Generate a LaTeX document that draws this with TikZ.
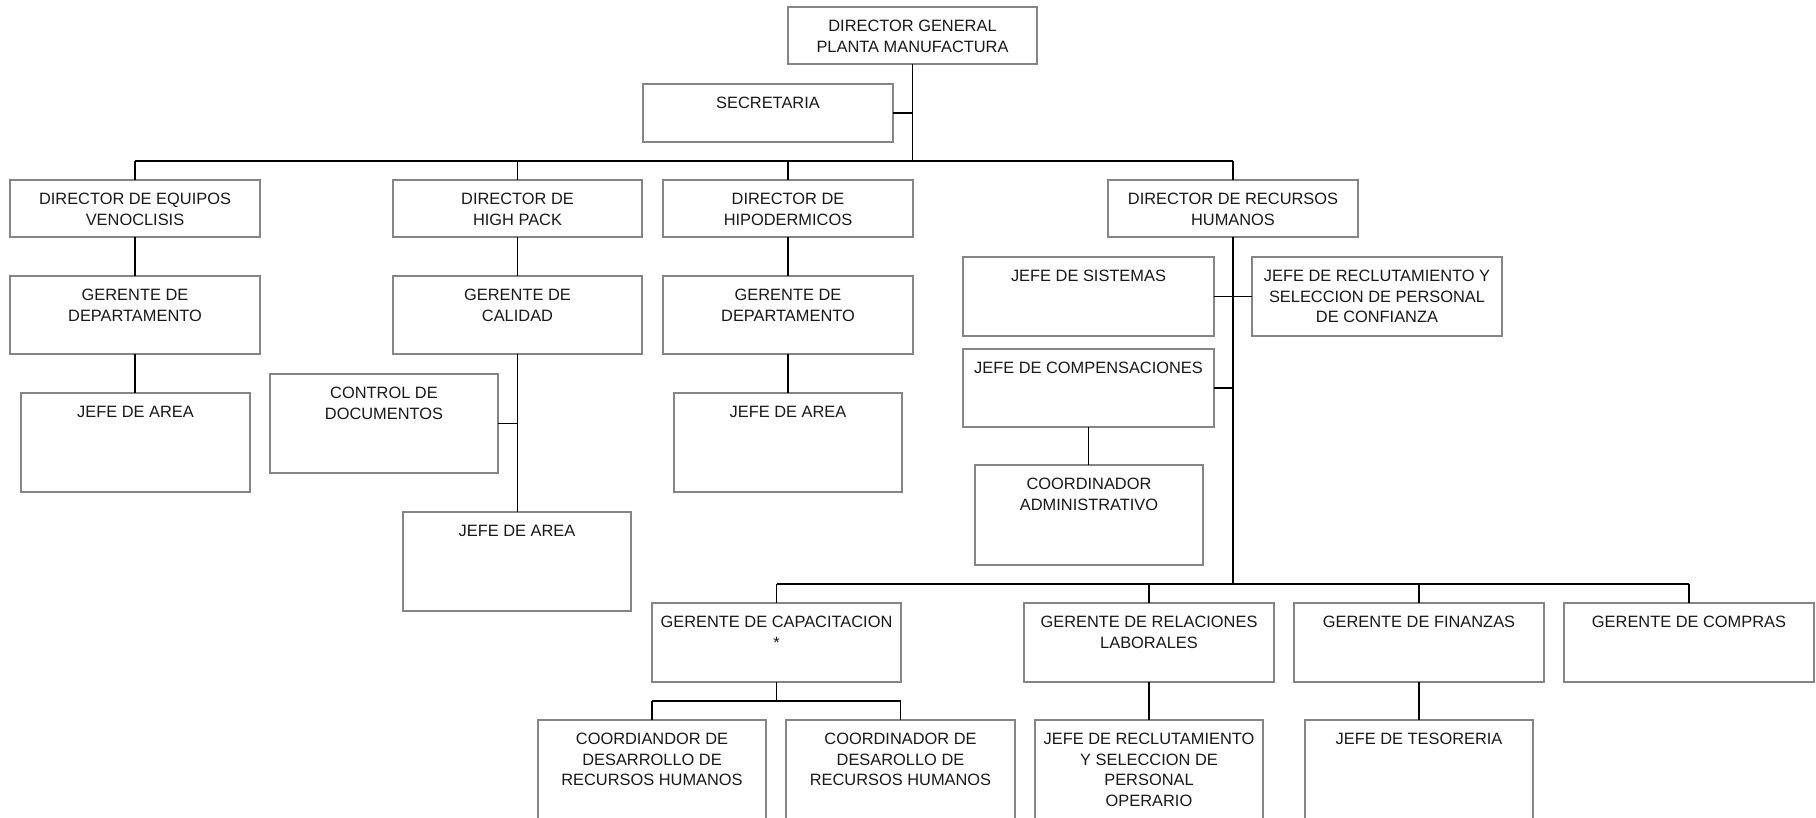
\documentclass[tikz,border=0pt]{standalone}
\usepackage{fontspec}
\setmainfont{Liberation Sans}
\newlength\pxu \setlength\pxu{0.5pt}
\newcommand\boxtxt[3]{\parbox[c][#2\pxu][t]{#1\pxu}{\centering\fontsize{8.2pt}{10.35pt}\selectfont\rule{0pt}{12.25pt}#3}}
\tikzset{
  obox/.style={draw=black!48, line width=0.6pt, fill=white, inner sep=0pt, outer sep=0pt, anchor=north west, text=black!90},
  conn/.style={draw=black, line width=0.55pt},
  bus/.style={draw=black, line width=0.75pt},
}
\begin{document}
\begin{tikzpicture}[x=0.5pt,y=-0.5pt]
\useasboundingbox (0,0) rectangle (1816,818);
\clip (0,0) rectangle (1816,818);
\fill[white] (0,0) rectangle (1816,818);
% boxes
\node[obox] (dg)  at (788,7)   {\boxtxt{249}{57}{DIRECTOR GENERAL\\PLANTA MANUFACTURA}};
\node[obox] (sec) at (643,84)  {\boxtxt{250}{58}{SECRETARIA}};
\node[obox] (d1)  at (10,180)  {\boxtxt{250}{57}{DIRECTOR DE EQUIPOS\\VENOCLISIS}};
\node[obox] (d2)  at (393,180) {\boxtxt{249}{57}{DIRECTOR DE\\HIGH PACK}};
\node[obox] (d3)  at (663,180) {\boxtxt{250}{57}{DIRECTOR DE\\HIPODERMICOS}};
\node[obox] (d4)  at (1108,180){\boxtxt{250}{57}{DIRECTOR DE RECURSOS\\HUMANOS}};
\node[obox] (g1)  at (10,276)  {\boxtxt{250}{78}{GERENTE DE\\DEPARTAMENTO}};
\node[obox] (g2)  at (393,276) {\boxtxt{249}{78}{GERENTE DE\\CALIDAD}};
\node[obox] (g3)  at (663,276) {\boxtxt{250}{78}{GERENTE DE\\DEPARTAMENTO}};
\node[obox] (ja1) at (21,393)  {\boxtxt{229}{99}{JEFE DE AREA}};
\node[obox] (cd)  at (270,374) {\boxtxt{228}{99}{CONTROL DE\\DOCUMENTOS}};
\node[obox] (ja2) at (403,512) {\boxtxt{228}{99}{JEFE DE AREA}};
\node[obox] (ja3) at (674,393) {\boxtxt{228}{99}{JEFE DE AREA}};
\node[obox] (js)  at (963,257) {\boxtxt{251}{79}{JEFE DE SISTEMAS}};
\node[obox] (jr)  at (1252,257){\boxtxt{250}{79}{JEFE DE RECLUTAMIENTO Y\\SELECCION DE PERSONAL\\DE CONFIANZA}};
\node[obox] (jc)  at (963,349) {\boxtxt{251}{78}{JEFE DE COMPENSACIONES}};
\node[obox] (ca)  at (975,465) {\boxtxt{228}{100}{COORDINADOR\\ADMINISTRATIVO}};
\node[obox] (gc)  at (652,603) {\boxtxt{249}{79}{GERENTE DE CAPACITACION\\{}*}};
\node[obox] (gr)  at (1024,603){\boxtxt{250}{79}{GERENTE DE RELACIONES\\LABORALES}};
\node[obox] (gf)  at (1294,603){\boxtxt{250}{79}{GERENTE DE FINANZAS}};
\node[obox] (gco) at (1564,603){\boxtxt{250}{79}{GERENTE DE COMPRAS}};
\node[obox] (co1) at (538,720) {\boxtxt{228}{120}{COORDIANDOR DE\\DESARROLLO DE\\RECURSOS HUMANOS}};
\node[obox] (co2) at (786,720) {\boxtxt{229}{120}{COORDINADOR DE\\DESAROLLO DE\\RECURSOS HUMANOS}};
\node[obox] (jro) at (1035,720){\boxtxt{228}{120}{JEFE DE RECLUTAMIENTO\\Y SELECCION DE\\PERSONAL\\OPERARIO}};
\node[obox] (jt)  at (1305,720){\boxtxt{228}{120}{JEFE DE TESORERIA}};
% junction coordinates
\coordinate (b1) at (dg.south |- 0,161);
\coordinate (s1) at (dg.south |- sec.east);
\coordinate (bl) at (d1.north |- b1);
\coordinate (br) at (d4.north |- b1);
\coordinate (k1) at (g2.south |- cd.east);
\coordinate (r2) at (d4.south |- 0,584);
\coordinate (rc) at (d4.south |- jc.east);
\coordinate (b2l) at (gc.north |- r2);
\coordinate (b2r) at (gco.north |- r2);
\coordinate (c3) at (gc.south |- 0,701);
\coordinate (c3l) at (co1.north |- c3);
\coordinate (c3r) at (co2.north |- c3);
% connectors
\draw[conn] (dg.south) -- (b1);
\draw[conn] (sec.east) -- (s1);
\draw[bus] (bl) -- (br);
\draw[conn] (bl) -- (d1.north);
\draw[conn] (d2.north |- b1) -- (d2.north);
\draw[conn] (d3.north |- b1) -- (d3.north);
\draw[conn] (br) -- (d4.north);
\draw[conn] (d1.south) -- (g1.north);
\draw[conn] (g1.south) -- (g1.south |- ja1.north);
\draw[conn] (d2.south) -- (g2.north);
\draw[conn] (g2.south) -- (g2.south |- ja2.north);
\draw[conn] (cd.east) -- (k1);
\draw[conn] (d3.south) -- (g3.north);
\draw[conn] (g3.south) -- (g3.south |- ja3.north);
\draw[conn] (d4.south) -- (r2);
\draw[conn] (js.east) -- (jr.west);
\draw[conn] (jc.east) -- (rc);
\draw[conn] (jc.south) -- (jc.south |- ca.north);
\draw[bus] (b2l) -- (b2r);
\draw[conn] (b2l) -- (gc.north);
\draw[conn] (gr.north |- r2) -- (gr.north);
\draw[conn] (gf.north |- r2) -- (gf.north);
\draw[conn] (b2r) -- (gco.north);
\draw[conn] (gc.south) -- (c3);
\draw[bus] (c3l) -- (c3r);
\draw[conn] (c3l) -- (co1.north);
\draw[conn] (c3r) -- (co2.north);
\draw[conn] (gr.south) -- (gr.south |- jro.north);
\draw[conn] (gf.south) -- (gf.south |- jt.north);
\end{tikzpicture}
\end{document}
